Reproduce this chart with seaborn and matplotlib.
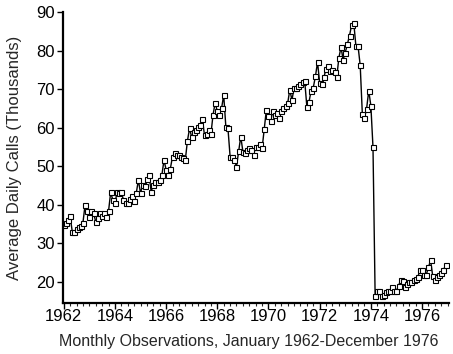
import numpy as np
import pandas as pd
import matplotlib
matplotlib.use("Agg")
import matplotlib.pyplot as plt
import seaborn as sns
from matplotlib.ticker import MultipleLocator

# Monthly average daily calls (thousands), Jan 1962 - Dec 1976
calls = [
    34.8, 35.2, 36.0, 37.0, 33.0, 33.0, 33.7, 34.2, 34.5, 35.3, 40.0, 38.3,   # 1962
    36.9, 38.4, 37.8, 35.6, 36.5, 37.8, 37.0, 37.8, 36.9, 38.3, 43.2, 41.3,   # 1963
    40.4, 43.2, 43.0, 43.2, 41.3, 40.4, 40.4, 41.5, 42.2, 40.9, 43.0, 46.4,   # 1964
    43.0, 45.2, 44.8, 46.8, 47.6, 43.4, 45.2, 46.0, 46.0, 46.5, 47.6, 51.6,   # 1965
    49.1, 47.8, 49.4, 52.5, 53.3, 53.0, 52.9, 52.5, 52.0, 51.6, 56.6, 59.8,   # 1966
    57.5, 59.0, 59.5, 60.2, 60.6, 62.3, 58.0, 58.4, 59.5, 58.3, 63.3, 66.5,   # 1967
    64.2, 63.3, 65.0, 68.5, 60.3, 59.8, 52.5, 52.3, 51.5, 49.9, 53.9, 57.7,   # 1968
    53.8, 53.3, 54.2, 54.6, 54.2, 52.9, 55.1, 55.0, 55.8, 54.6, 59.7, 64.6,   # 1969
    62.9, 61.8, 64.2, 63.3, 63.7, 62.4, 64.4, 65.0, 65.6, 66.3, 69.9, 67.1,   # 1970
    70.4, 70.4, 70.8, 71.4, 71.8, 72.0, 65.4, 66.7, 69.6, 70.4, 73.3, 77.0,   # 1971
    71.6, 71.2, 73.1, 75.3, 75.9, 74.8, 75.0, 74.4, 73.1, 78.1, 80.9, 77.6,   # 1972
    79.5, 81.7, 83.9, 86.7, 87.1, 81.1, 81.1, 76.2, 63.6, 62.6, 64.9, 69.6,   # 1973
    65.7, 54.9, 16.4, 17.7, 17.6, 16.4, 16.7, 17.3, 17.5, 17.7, 18.6, 17.7,   # 1974
    17.7, 19.0, 20.5, 20.3, 18.6, 19.5, 19.9, 19.9, 20.4, 20.8, 21.2, 23.0,   # 1975
    23.0, 21.9, 21.9, 23.8, 25.6, 21.5, 20.5, 21.3, 21.7, 22.3, 23.0, 24.3,   # 1976
]
start_year = 1962
x_ticks = [1962, 1964, 1966, 1968, 1970, 1972, 1974, 1976]
y_ticks = [20, 30, 40, 50, 60, 70, 80, 90]

df = pd.DataFrame({
    "t": start_year + np.arange(len(calls)) / 12.0,
    "calls": calls,
})

sns.set_style("ticks")
plt.rcParams["font.family"] = ["Liberation Sans", "DejaVu Sans"]

fig = plt.figure(figsize=(4.53, 3.54), dpi=100)
ax = fig.add_axes([0.139, 0.144, 0.852, 0.822])

sns.lineplot(data=df, x="t", y="calls", ax=ax, color="black", linewidth=1.0,
             marker="s", markersize=3.6, markerfacecolor="white",
             markeredgecolor="black", markeredgewidth=0.8)

ax.set_xlim(1961.97, 1977.05)
ax.set_ylim(14.5, 90)
ax.set_xticks(x_ticks)
ax.set_xticklabels([str(v) for v in x_ticks])
ax.xaxis.set_minor_locator(MultipleLocator(0.25))
ax.set_yticks(y_ticks)
ax.set_yticklabels([str(v) for v in y_ticks])

ax.tick_params(axis="both", which="major", direction="out", length=4, width=1,
               labelsize=12, colors="black", pad=2)
ax.tick_params(axis="x", which="major", pad=0.5)
ax.tick_params(axis="x", which="minor", direction="out", length=2.5, width=0.8)
ax.tick_params(axis="y", which="minor", left=False)

for s in ["top", "right"]:
    ax.spines[s].set_visible(False)
for s in ["left", "bottom"]:
    ax.spines[s].set_linewidth(1.6)
    ax.spines[s].set_color("black")

ax.set_xlabel("Monthly Observations, January 1962-December 1976", fontsize=11.5, labelpad=8)
ax.xaxis.set_label_coords(0.482, -0.105)
ax.set_ylabel("Average Daily Calls (Thousands)", fontsize=12, labelpad=10)

fig.savefig("out.png", dpi=100)
